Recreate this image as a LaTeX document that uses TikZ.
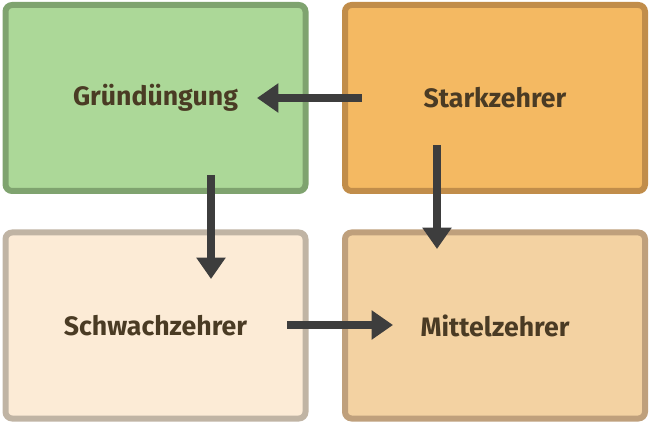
\documentclass[tikz,border=0pt]{standalone}
\usepackage{fontspec}
\setmainfont{Fira Sans}
\usetikzlibrary{arrows.meta}
\definecolor{gfill}{HTML}{ACD898}\definecolor{gline}{HTML}{7FA36F}
\definecolor{ofill}{HTML}{F4B962}\definecolor{oline}{HTML}{C18D4A}
\definecolor{cfill}{HTML}{FCEBD6}\definecolor{cline}{HTML}{C0B4A4}
\definecolor{tfill}{HTML}{F3D2A2}\definecolor{tline}{HTML}{BFA07C}
\definecolor{txt}{HTML}{4A3B24}\definecolor{arr}{HTML}{3D3D3D}
\begin{document}
\begin{tikzpicture}[x=0.75pt,y=-0.75pt,
  box/.style={draw,line width=4.5pt,rounded corners=5pt,minimum width=300*0.75pt,minimum height=186*0.75pt,inner sep=0pt,font=\fontsize{20}{24}\selectfont\bfseries,text=txt},
  conn/.style={draw=arr,line width=6pt,-{Triangle[length=16pt,width=21pt]}}]
\useasboundingbox (0,0) rectangle (650,424);
\node[box,fill=gfill,draw=gline] (g) at (155.5,98) {Gründüngung};
\node[box,fill=ofill,draw=oline] (s) at (495,98) {Starkzehrer};
\node[box,fill=cfill,draw=cline] (w) at (155.5,325.5) {Schwachzehrer};
\node[box,fill=tfill,draw=tline] (m) at (495,325.5) {Mittelzehrer};
\coordinate (a1s) at (362,98); \coordinate (a1e) at (257,98);
\coordinate (a2s) at (211,175); \coordinate (a2e) at (211,279);
\coordinate (a3s) at (437,145); \coordinate (a3e) at (437,249);
\coordinate (a4s) at (287,325); \coordinate (a4e) at (393,325);
\draw[conn] (a1s) -- (a1e);
\draw[conn] (a2s) -- (a2e);
\draw[conn] (a3s) -- (a3e);
\draw[conn] (a4s) -- (a4e);
\end{tikzpicture}
\end{document}
